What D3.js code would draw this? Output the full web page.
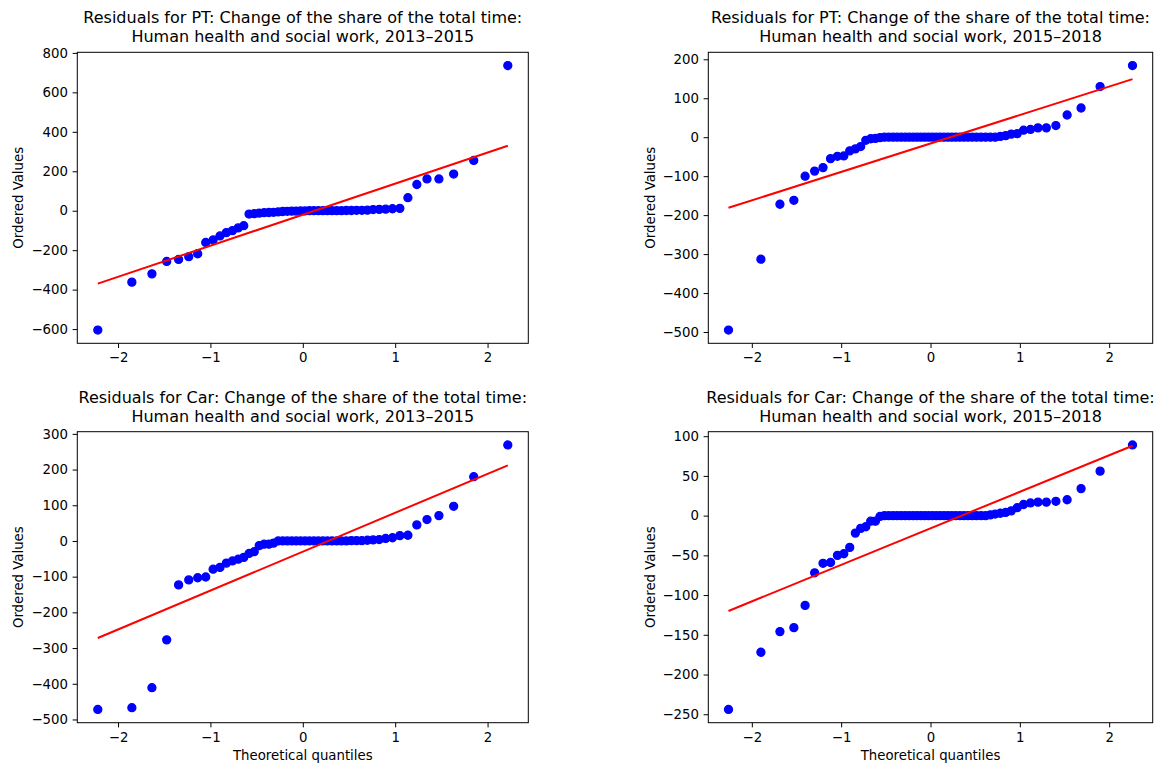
<!DOCTYPE html>
<html>
<head>
<meta charset="utf-8">
<script src="https://cdn.jsdelivr.net/npm/d3@7"></script>
<style>
    body { margin: 0; background: #fff; }
    svg text { font-family: "DejaVu Sans", sans-serif; fill: #000; }
</style>
</head>
<body>
<div id="qq_chart"></div>
<script>
// ordered residuals (sorted ascending)
var ptEarly = [-605, -362, -320, -257, -247, -233, -218, -161, -148, -128, -111, -101, -87, -76,
    -17, -15, -12, -10, -9, -8, -6, -4, -3, -2, -2, -1, -1,
    0, 0, 0, 0, 0, 0, 0, 0, 1, 1, 2, 2, 3, 6, 7, 8, 10, 12,
    66, 133, 161, 161, 186, 255, 736]

var ptLate = [-495, -313, -172, -162, -100, -87, -78, -55, -49, -48, -35, -30, -24, -8, -4, -3, -1,
    0, 0, 0, 0, 0, 0, 0, 0, 0, 0, 0, 0, 0, 0, 0, 0, 0, 0, 0, 0, 0, 0, 0, 0, 0, 0, 0, 0,
    2, 4, 8, 9, 18, 20, 24, 24, 30, 57, 75, 130, 184]

var carEarly = [-472, -467, -411, -277, -123, -109, -103, -101, -79, -74, -62, -56, -51, -46, -35, -30, -13, -9, -9, -6,
    0, 0, 0, 0, 0, 0, 0, 0, 0, 0, 0, 0, 0, 0, 0, 0, 1, 1, 1,
    2, 3, 4, 7, 9, 15, 16, 45, 60, 71, 97, 180, 269]

var carLate = [-244, -172, -146, -141, -113, -72, -60, -59, -50, -48, -40, -22, -16, -14, -7, -7, -1,
    0, 0, 0, 0, 0, 0, 0, 0, 0, 0, 0, 0, 0, 0, 0, 0, 0, 0, 0, 0, 0, 0, 0, 0, 0, 0,
    1, 2, 3, 4, 6, 10, 14, 16, 17, 17, 18, 20, 34, 56, 89]

// red fit lines as [slope, intercept]
var ptEarlyFit = [157.5, -20]
var ptLateFit = [73, -16]
var carEarlyFit = [109, -30]
var carLateFit = [46, -16]

var titleTop = ["Residuals for PT: Change of the share of the total time:",
                "Residuals for Car: Change of the share of the total time:"]
var titleBottom = ["Human health and social work, 2013\u20132015",
                   "Human health and social work, 2015\u20132018"]

var xTicks = [-2, -1, 0, 1, 2]
var ptEarlyTicks = [-600, -400, -200, 0, 200, 400, 600, 800]
var ptLateTicks = [-500, -400, -300, -200, -100, 0, 100, 200]
var carEarlyTicks = [-500, -400, -300, -200, -100, 0, 100, 200, 300]
var carLateTicks = [-250, -200, -150, -100, -50, 0, 50, 100]

// inverse of the standard normal cdf (Acklam)
let normInv = (p) => {
    var a = [-3.969683028665376e+01, 2.209460984245205e+02, -2.759285104469687e+02, 1.383577518672690e+02, -3.066479806614716e+01, 2.506628277459239e+00]
    var b = [-5.447609879822406e+01, 1.615858368580409e+02, -1.556989798598866e+02, 6.680131188771972e+01, -1.328068155288572e+01]
    var c = [-7.784894002430293e-03, -3.223964580411365e-01, -2.400758277161838e+00, -2.549732539343734e+00, 4.374664141464968e+00, 2.938163982698783e+00]
    var d = [7.784695709041462e-03, 3.224671290700398e-01, 2.445134137142996e+00, 3.754408661907416e+00]
    if (p < 0.02425) {
        var q = Math.sqrt(-2 * Math.log(p))
        return (((((c[0]*q + c[1])*q + c[2])*q + c[3])*q + c[4])*q + c[5]) / ((((d[0]*q + d[1])*q + d[2])*q + d[3])*q + 1)
    }
    if (p > 1 - 0.02425) return -normInv(1 - p)
    var q = p - 0.5, r = q * q
    return (((((a[0]*r + a[1])*r + a[2])*r + a[3])*r + a[4])*r + a[5]) * q / (((((b[0]*r + b[1])*r + b[2])*r + b[3])*r + b[4])*r + 1)
}

// theoretical quantiles, Filliben's medians (as scipy probplot does)
let quantiles = (n) => {
    var last = Math.pow(0.5, 1 / n)
    return d3.range(n).map((i) => {
        var m = i == 0 ? 1 - last : (i == n - 1 ? last : (i + 1 - 0.3175) / (n + 0.365))
        return normInv(m)
    })
}

document.addEventListener("DOMContentLoaded", () => {
    drawQQCharts();
});

let drawQQCharts = () => {
    var width = 1171
    var height = 767

    var svg = d3.select("#qq_chart")
        .append("svg")
        .attr("width", width)
        .attr("height", height)

    var panels = [
        { values: ptEarly, fit: ptEarlyFit, ticks: ptEarlyTicks, title: [titleTop[0], titleBottom[0]], box: [77.3, 52.3, 528.3, 343.3], labelX: 23, xLabel: false },
        { values: ptLate, fit: ptLateFit, ticks: ptLateTicks, title: [titleTop[0], titleBottom[1]], box: [708.3, 52.3, 1152.7, 343.3], labelX: 655, xLabel: false },
        { values: carEarly, fit: carEarlyFit, ticks: carEarlyTicks, title: [titleTop[1], titleBottom[0]], box: [77.3, 431.7, 528.3, 722.7], labelX: 23, xLabel: true },
        { values: carLate, fit: carLateFit, ticks: carLateTicks, title: [titleTop[1], titleBottom[1]], box: [708.3, 431.7, 1152.7, 722.7], labelX: 655, xLabel: true }
    ]

    panels.forEach((p) => {
        var qs = quantiles(p.values.length)
        var points = qs.map((q, i) => ({ q: q, v: p.values[i] }))
        var lineEnds = [qs[0], qs[qs.length - 1]].map((q) => ({ q: q, v: p.fit[0] * q + p.fit[1] }))

        // matplotlib-style 5% margins
        var xExt = d3.extent(qs)
        var yExt = d3.extent(p.values.concat(lineEnds.map((d) => d.v)))
        var xPad = (xExt[1] - xExt[0]) * 0.05
        var yPad = (yExt[1] - yExt[0]) * 0.05

        var [x0, y0, x1, y1] = p.box

        var x = d3.scaleLinear()
            .domain([xExt[0] - xPad, xExt[1] + xPad])
            .range([x0, x1])
        var y = d3.scaleLinear()
            .domain([yExt[0] - yPad, yExt[1] + yPad])
            .range([y1, y0])

        var g = svg.append("g")

        // axes
        var xAxis = g.append("g")
            .attr("transform", "translate(0," + y1 + ")")
            .call(d3.axisBottom(x).tickValues(xTicks).tickFormat(d3.format("d")).tickSize(4.7).tickPadding(4.7).tickSizeOuter(0))
        var yAxis = g.append("g")
            .attr("transform", "translate(" + x0 + ",0)")
            .call(d3.axisLeft(y).tickValues(p.ticks).tickFormat(d3.format("d")).tickSize(4.7).tickPadding(4.7).tickSizeOuter(0))

        ;[xAxis, yAxis].forEach((a) => {
            a.select(".domain").remove()
            a.selectAll("line").attr("stroke", "#000").attr("stroke-width", 1)
            a.selectAll("text").style("font-size", "13.3px").attr("fill", "#000")
        })

        // points
        g.append("g")
            .selectAll("circle")
            .data(points)
            .enter()
            .append("circle")
            .attr("cx", (d) => x(d.q))
            .attr("cy", (d) => y(d.v))
            .attr("r", 4)
            .style("fill", "#0000ff")
            .style("stroke", "#0000ff")
            .style("stroke-width", 1.3)

        // fit line
        g.append("path")
            .datum(lineEnds)
            .attr("d", d3.line().x((d) => x(d.q)).y((d) => y(d.v)))
            .attr("fill", "none")
            .attr("stroke", "#ff0000")
            .attr("stroke-width", 2)

        // frame
        g.append("rect")
            .attr("x", x0)
            .attr("y", y0)
            .attr("width", x1 - x0)
            .attr("height", y1 - y0)
            .attr("fill", "none")
            .attr("stroke", "#000")
            .attr("stroke-width", 1)

        // title, two lines
        g.selectAll(".title")
            .data(p.title)
            .enter()
            .append("text")
            .attr("class", "title")
            .attr("x", (x0 + x1) / 2)
            .attr("y", (d, i) => y0 - 29 + i * 19)
            .attr("text-anchor", "middle")
            .style("font-size", "16px")
            .text((d) => d)

        g.append("text")
            .attr("transform", "translate(" + p.labelX + "," + (y0 + y1) / 2 + ") rotate(-90)")
            .attr("text-anchor", "middle")
            .style("font-size", "13.3px")
            .text("Ordered Values")

        if (p.xLabel) {
            g.append("text")
                .attr("x", (x0 + x1) / 2)
                .attr("y", y1 + 37.5)
                .attr("text-anchor", "middle")
                .style("font-size", "13.3px")
                .text("Theoretical quantiles")
        }
    })
}
</script>
</body>
</html>
